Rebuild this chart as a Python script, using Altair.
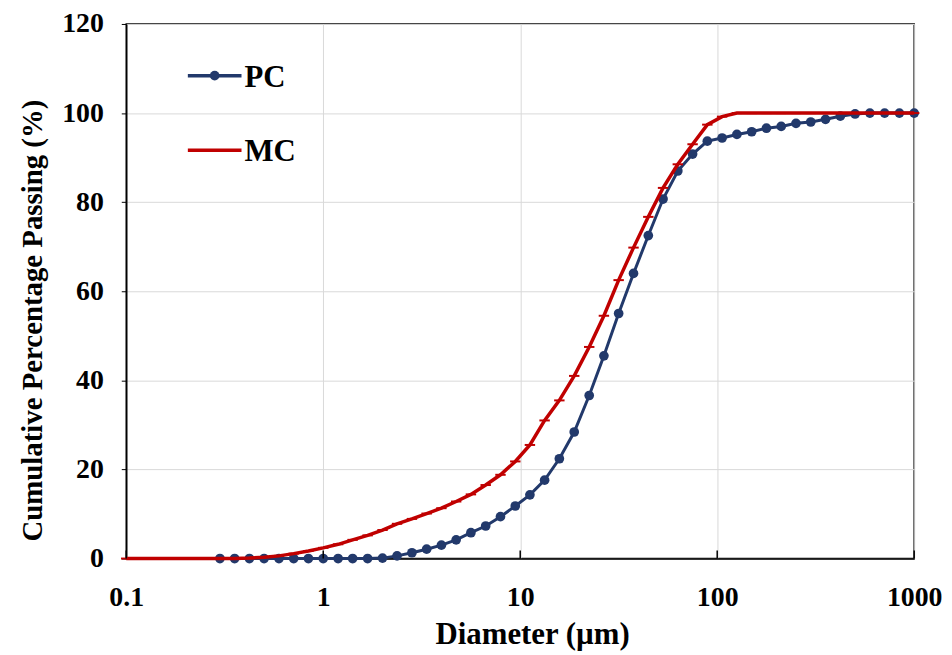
import altair as alt
import pandas as pd

# ---- data ----
pc_diameter = [0.299, 0.355, 0.422, 0.501, 0.596, 0.708, 0.841, 1.00, 1.19, 1.41,
               1.68, 2.00, 2.37, 2.82, 3.35, 3.98, 4.73, 5.62, 6.68, 7.94,
               9.44, 11.2, 13.3, 15.8, 18.8, 22.4, 26.6, 31.6, 37.6, 44.7,
               53.1, 63.1, 75.0, 89.1, 105.9, 125.9, 149.6, 177.8, 211.3, 251.2,
               298.5, 354.8, 421.7, 501.2, 595.7, 707.9, 841.4, 1000]
pc_passing = [0, 0, 0, 0, 0, 0, 0, 0, 0, 0,
              0, 0.1, 0.6, 1.3, 2.1, 3.0, 4.2, 5.8, 7.3, 9.4,
              11.8, 14.3, 17.6, 22.4, 28.4, 36.6, 45.5, 55.0, 64.0, 72.5,
              80.7, 87.0, 90.8, 93.7, 94.4, 95.2, 95.8, 96.6, 97.0, 97.7,
              98.0, 98.6, 99.3, 99.8, 100, 100, 100, 100]

mc_diameter = [0.1, 0.126, 0.150, 0.178, 0.211, 0.251,
               0.299, 0.355, 0.422, 0.501, 0.596, 0.708, 0.841, 1.00, 1.19, 1.41,
               1.68, 2.00, 2.37, 2.82, 3.35, 3.98, 4.73, 5.62, 6.68, 7.94,
               9.44, 11.2, 13.3, 15.8, 18.8, 22.4, 26.6, 31.6, 37.6, 44.7,
               53.1, 63.1, 75.0, 89.1, 105.9, 125.9, 149.6, 177.8, 211.3, 251.2,
               298.5, 354.8, 421.7, 501.2, 595.7, 707.9, 841.4, 1000]
mc_passing = [0, 0, 0, 0, 0, 0,
              0, 0, 0.1, 0.3, 0.6, 1.1, 1.7, 2.4, 3.2, 4.2,
              5.2, 6.4, 7.8, 8.9, 10.1, 11.3, 12.8, 14.4, 16.5, 18.8,
              21.8, 25.5, 31.0, 35.5, 41.0, 47.5, 54.5, 62.5, 69.8, 76.7,
              83.2, 88.5, 93.0, 97.4, 99.2, 100, 100, 100, 100, 100,
              100, 100, 100, 100, 100, 100, 100, 100]

x_ticks = [0.1, 1, 10, 100, 1000]
y_ticks = [0, 20, 40, 60, 80, 100, 120]
legend_labels = ["PC", "MC"]

PC_COLOR = "#22396B"
MC_COLOR = "#C00000"
FONT = "Liberation Serif"
W, H = 793, 538

pc_df = pd.DataFrame({"d": pc_diameter, "p": pc_passing})
mc_df = pd.DataFrame({"d": mc_diameter, "p": mc_passing})
tick_df = pd.DataFrame({"d": x_ticks})

x_enc = alt.X(
    "d:Q",
    scale=alt.Scale(type="log", domain=[0.1, 1000], nice=False),
    axis=alt.Axis(
        values=x_ticks, format="~g", title="Diameter (µm)",
        ticks=False, labelPadding=25, titlePadding=8,
        titleFontSize=31, titleX=W / 2 + 12,
        gridColor="#D9D9D9", gridWidth=1,
        domainColor="black", domainWidth=1.5, labelFlush=False,
    ),
)
y_enc = alt.Y(
    "p:Q",
    scale=alt.Scale(domain=[0, 120], nice=False),
    axis=alt.Axis(
        values=y_ticks, title="Cumulative  Percentage Passing (%)",
        tickSize=5, tickColor="black", labelPadding=18, titlePadding=14,
        titleY=H / 2 + 29,
        gridColor="#D9D9D9", gridWidth=1,
        domainColor="black", domainWidth=1.5,
    ),
)

pc_line = alt.Chart(pc_df).mark_line(color=PC_COLOR, strokeWidth=3).encode(x=x_enc, y=y_enc)
pc_pts = alt.Chart(pc_df).mark_point(
    shape="circle", filled=True, size=95, color=PC_COLOR, opacity=1
).encode(x="d:Q", y="p:Q")

mc_line = alt.Chart(mc_df).mark_line(color=MC_COLOR, strokeWidth=3.5).encode(x="d:Q", y="p:Q")
mc_pts = alt.Chart(mc_df).mark_point(
    shape="stroke", size=110, color=MC_COLOR, strokeWidth=2, opacity=1
).encode(x="d:Q", y="p:Q")

x_inner_ticks = alt.Chart(tick_df).mark_rule(color="black", strokeWidth=1.5).encode(
    x="d:Q", y=alt.value(H), y2=alt.value(H - 8)
)

# legend (drawn inside the plot, top-left)
leg = []
leg_y = [52, 127]
for i, name in enumerate(legend_labels):
    col = PC_COLOR if name == "PC" else MC_COLOR
    ldata = alt.Data(values=[{"s": name}])
    leg.append(alt.Chart(ldata).mark_rule(color=col, strokeWidth=3.5).encode(
        x=alt.value(62), x2=alt.value(116), y=alt.value(leg_y[i])))
    if name == "PC":
        leg.append(alt.Chart(ldata).mark_point(
            shape="circle", filled=True, size=95, color=col, opacity=1).encode(
            x=alt.value(89), y=alt.value(leg_y[i])))
    leg.append(alt.Chart(ldata).mark_text(
        font=FONT, fontWeight="bold", fontSize=31, color="black",
        align="left", baseline="middle").encode(
        x=alt.value(119), y=alt.value(leg_y[i] + 2), text="s:N"))

chart = alt.layer(
    pc_line, pc_pts, mc_line, mc_pts, x_inner_ticks, *leg
).properties(
    width=W, height=H,
    autosize=alt.AutoSizeParams(type="none"),
    padding={"left": 119, "top": 14, "right": 30, "bottom": 95},
).configure_view(
    stroke="black", strokeWidth=1.5
).configure_axis(
    labelFont=FONT, labelFontWeight="bold", labelFontSize=28, labelColor="black",
    titleFont=FONT, titleFontWeight="bold", titleFontSize=29, titleColor="black",
)

chart.save("out.html", embed_options={"renderer": "svg", "actions": False})
